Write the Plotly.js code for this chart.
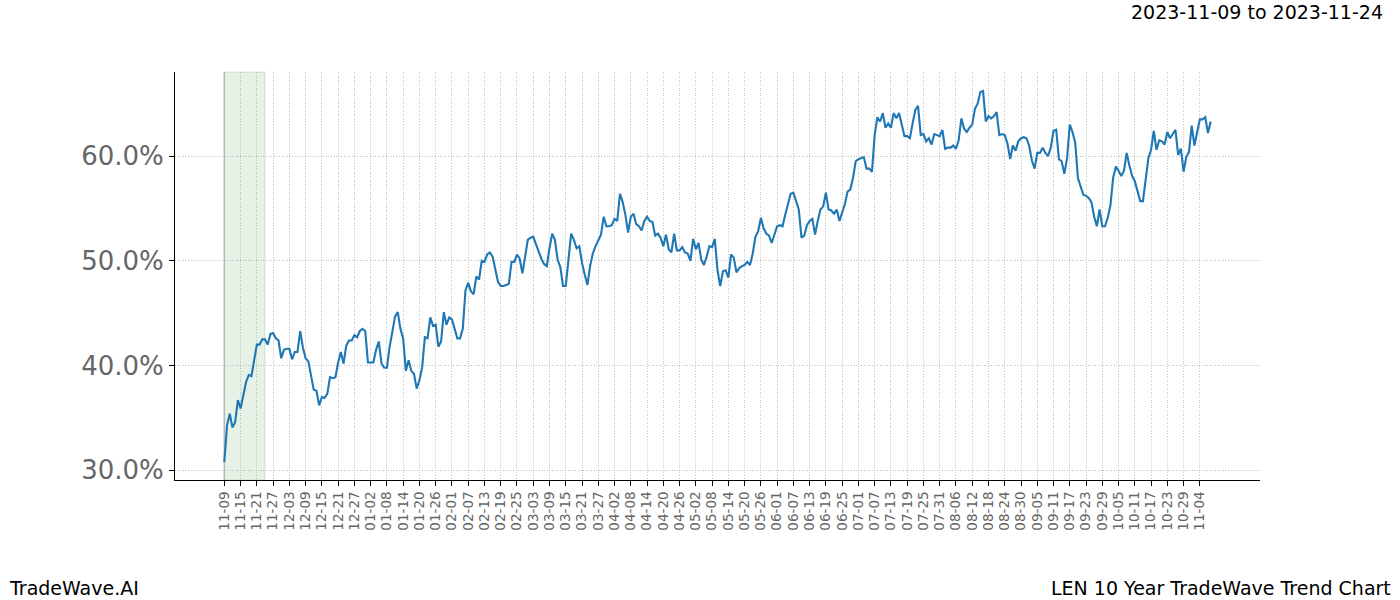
<!DOCTYPE html>
<html>
<head>
<meta charset="utf-8">
<script src="https://cdn.plot.ly/plotly-3.0.1.min.js"></script>
<style>
  html, body { margin: 0; padding: 0; background: #ffffff; }
  #chart { width: 1400px; height: 600px; }
</style>
</head>
<body>
<div id="chart"></div>
<script>
// Daily trend values (%), one per day from 2023-11-09 onward
const trendPct = [
  30.8, 34.3, 35.4, 34.1, 34.6, 36.7, 35.9, 37.3, 38.4, 39.1,
  39.0, 40.5, 42.0, 42.0, 42.5, 42.5, 42.0, 43.0, 43.1, 42.6,
  42.4, 40.7, 41.5, 41.6, 41.6, 40.6, 41.3, 41.3, 43.3, 41.7,
  40.7, 40.4, 38.9, 37.7, 37.6, 36.2, 37.0, 36.9, 37.3, 38.9,
  38.8, 38.9, 40.3, 41.3, 40.2, 41.9, 42.4, 42.4, 42.9, 42.7,
  43.3, 43.5, 43.3, 40.3, 40.3, 40.3, 41.5, 42.3, 40.2, 39.8,
  39.8, 41.8, 43.2, 44.7, 45.1, 43.5, 42.6, 39.5, 40.5, 39.5,
  39.2, 37.8, 38.6, 39.8, 42.7, 42.6, 44.6, 43.8, 43.9, 41.8,
  42.3, 45.1, 43.9, 44.6, 44.4, 43.5, 42.6, 42.6, 43.5, 47.2,
  47.9, 47.1, 46.8, 48.5, 48.2, 50.0, 49.9, 50.6, 50.8, 50.4,
  49.2, 48.0, 47.6, 47.6, 47.7, 47.8, 49.9, 49.9, 50.6, 50.2,
  48.8, 50.3, 52.0, 52.2, 52.3, 51.6, 50.8, 50.2, 49.7, 49.5,
  51.2, 52.6, 52.0, 50.1, 49.4, 47.6, 47.6, 50.1, 52.6, 52.0,
  51.2, 51.4, 49.8, 48.7, 47.7, 49.5, 50.7, 51.4, 52.0, 52.5,
  54.2, 53.3, 53.3, 53.4, 54.0, 53.8, 56.4, 55.6, 54.4, 52.7,
  54.2, 54.5, 53.5, 53.3, 52.9, 53.8, 54.2, 53.8, 53.7, 52.4,
  52.6, 52.2, 51.4, 52.5, 51.1, 50.8, 52.6, 51.0, 51.0, 51.3,
  50.8, 50.7, 50.0, 52.1, 51.1, 51.7, 50.1, 49.6, 50.4, 51.4,
  51.3, 52.1, 49.1, 47.6, 49.0, 49.1, 48.4, 50.6, 50.3, 48.9,
  49.3, 49.5, 49.6, 49.9, 49.6, 50.7, 52.3, 52.8, 54.1, 53.1,
  52.6, 52.4, 51.7, 52.5, 53.3, 53.4, 53.3, 54.4, 55.3, 56.4,
  56.5, 55.7, 54.9, 52.2, 52.4, 53.4, 53.8, 54.0, 52.5, 53.8,
  54.9, 55.2, 56.5, 54.9, 54.8, 54.5, 54.9, 53.8, 54.5, 55.4,
  56.6, 56.8, 57.9, 59.5, 59.7, 59.8, 59.9, 58.8, 58.8, 58.5,
  62.0, 63.7, 63.3, 64.1, 62.7, 63.1, 62.7, 64.1, 63.6, 64.1,
  63.0, 61.9, 61.9, 61.7, 63.1, 64.4, 64.8, 62.0, 62.1, 61.4,
  61.7, 61.1, 62.1, 62.0, 61.9, 62.5, 60.7, 60.8, 60.8, 61.0,
  60.7, 61.5, 63.6, 62.6, 62.3, 62.7, 63.0, 64.5, 65.0, 66.1,
  66.2, 63.3, 63.8, 63.6, 63.8, 64.2, 62.0, 62.1, 62.0, 61.2,
  59.7, 61.0, 60.5, 61.4, 61.7, 61.8, 61.7, 61.0, 59.6, 58.8,
  60.3, 60.3, 60.8, 60.3, 60.0, 60.8, 62.4, 62.5, 59.7, 59.5,
  58.3, 59.8, 63.0, 62.3, 61.3, 57.9, 57.1, 56.3, 56.2, 56.0,
  55.6, 54.2, 53.3, 54.9, 53.3, 53.3, 54.1, 55.3, 57.9, 59.0,
  58.6, 58.1, 58.6, 60.3, 59.1, 58.1, 57.6, 56.6, 55.7, 55.7,
  57.7, 59.8, 60.6, 62.4, 60.6, 61.5, 61.4, 61.1, 62.3, 61.7,
  62.1, 62.5, 60.1, 60.7, 58.5, 59.9, 60.4, 62.9, 61.0, 62.3,
  63.5, 63.5, 63.7, 62.2, 63.3
];

// Tick labels, one every 6 days starting at the first day
const tickLabels = [
  "11-09","11-15","11-21","11-27","12-03","12-09","12-15","12-21","12-27","01-02",
  "01-08","01-14","01-20","01-26","02-01","02-07","02-13","02-19","02-25","03-03",
  "03-09","03-15","03-21","03-27","04-02","04-08","04-14","04-20","04-26","05-02",
  "05-08","05-14","05-20","05-26","06-01","06-07","06-13","06-19","06-25","07-01",
  "07-07","07-13","07-19","07-25","07-31","08-06","08-12","08-18","08-24","08-30",
  "09-05","09-11","09-17","09-23","09-29","10-05","10-11","10-17","10-23","10-29",
  "11-04"
];

// Highlighted window (day indices): 2023-11-09 to 2023-11-24
const highlightStart = 0;
const highlightEnd = 15;

const titleText = "2023-11-09 to 2023-11-24";
const leftFooter = "TradeWave.AI";
const rightFooter = "LEN 10 Year TradeWave Trend Chart";

const dayIndex = trendPct.map((_, i) => i);
const tickStep = 6;
const tickVals = tickLabels.map((_, i) => i * tickStep);

const n = trendPct.length - 1;
const pad = n * 0.05;

const font = "DejaVu Sans, Verdana, sans-serif";

const trace = {
  x: dayIndex,
  y: trendPct,
  type: "scatter",
  mode: "lines",
  line: { color: "#1f77b4", width: 2.1 },
  hoverinfo: "skip"
};

const gridStyle = {
  showgrid: true,
  gridcolor: "#a8a8a8",
  gridwidth: 0.7,
  griddash: "1px,1.6px"
};

const layout = {
  width: 1400,
  height: 600,
  margin: { l: 175, r: 140, t: 72, b: 120 },
  paper_bgcolor: "#ffffff",
  plot_bgcolor: "#ffffff",
  showlegend: false,
  font: { family: font, color: "#000000" },
  xaxis: Object.assign({
    range: [-pad, n + pad],
    tickmode: "array",
    tickvals: tickVals,
    ticktext: tickLabels,
    tickangle: -90,
    tickfont: { family: font, size: 13.5, color: "#666666" },
    ticks: "outside",
    ticklen: 5,
    tickwidth: 1,
    tickcolor: "#000000",
    showline: true,
    linecolor: "#000000",
    linewidth: 1,
    zeroline: false,
    fixedrange: true
  }, gridStyle),
  yaxis: Object.assign({
    range: [29.08, 68.02],
    tickmode: "array",
    tickvals: [30, 40, 50, 60],
    ticktext: ["30.0%", "40.0%", "50.0%", "60.0%"],
    tickfont: { family: font, size: 26, color: "#666666" },
    ticks: "outside",
    ticklen: 5,
    tickwidth: 1,
    tickcolor: "#000000",
    showline: true,
    linecolor: "#000000",
    linewidth: 1,
    zeroline: false,
    fixedrange: true
  }, gridStyle),
  shapes: [
    {
      type: "rect", xref: "x", yref: "paper",
      x0: highlightStart, x1: highlightEnd, y0: 0, y1: 1,
      fillcolor: "rgba(0,128,0,0.1)",
      line: { color: "rgba(0,100,0,0.15)", width: 1 },
      layer: "below"
    },
    {
      type: "line", xref: "x", yref: "paper",
      x0: highlightStart, x1: highlightStart, y0: 0, y1: 1,
      line: { color: "#bbbbbb", width: 1.5 },
      layer: "below"
    }
  ],
  annotations: [
    {
      text: titleText, xref: "paper", yref: "paper",
      x: 1.1152, y: 1.147, xanchor: "right", yanchor: "middle",
      showarrow: false, font: { family: font, size: 19, color: "#000000" }
    },
    {
      text: leftFooter, xref: "paper", yref: "paper",
      x: -0.1548, y: -0.265, xanchor: "left", yanchor: "middle",
      showarrow: false, font: { family: font, size: 19, color: "#000000" }
    },
    {
      text: rightFooter, xref: "paper", yref: "paper",
      x: 1.1226, y: -0.265, xanchor: "right", yanchor: "middle",
      showarrow: false, font: { family: font, size: 19, color: "#000000" }
    }
  ]
};

Plotly.newPlot("chart", [trace], layout, { displayModeBar: false, staticPlot: true });
</script>
</body>
</html>
